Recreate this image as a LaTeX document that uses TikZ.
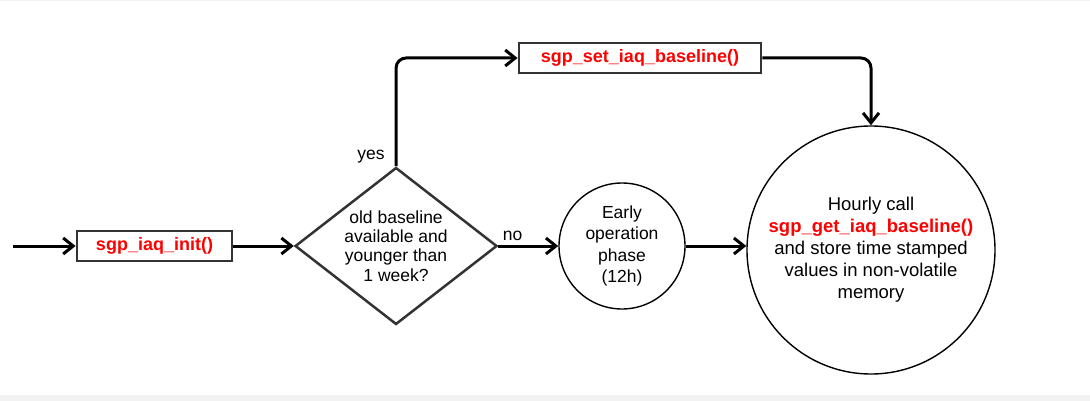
\documentclass[tikz,border=0pt]{standalone}
\usepackage{fontspec}
\setmainfont{Liberation Sans}
\usetikzlibrary{positioning,shapes.geometric,arrows.meta}
\definecolor{fnred}{HTML}{FF0000}
\definecolor{boxgray}{HTML}{333333}
\definecolor{bggray}{HTML}{F2F2F2}

\begin{document}
\begin{tikzpicture}[x=1pt,y=-1pt,>={Straight Barb[length=10pt,width=16pt]},auto,
                    flow/.style={->,line width=3pt},
                    fn node/.style={rectangle,draw=boxgray,line width=2.8pt,minimum height=30pt,inner sep=0pt,text=fnred,font=\fontsize{18}{20}\selectfont\bfseries},
                    dec node/.style={diamond,draw=boxgray,line width=2.5pt,aspect=1.29,minimum width=202pt,minimum height=157pt,inner sep=0pt,align=center,font=\fontsize{17.5}{19.3}\selectfont},
                    phase node/.style={circle,draw,line width=1.4pt,inner sep=0pt,align=center},
                    lbl/.style={font=\fontsize{17.5}{19}\selectfont}]

                    \useasboundingbox (0,0) rectangle (1090,401);
                    \fill[bggray] (0,0) rectangle (1090,1.5);
                    \fill[bggray] (0,395) rectangle (1090,401);

                    \coordinate (0) at (13,246);
                    \node[fn node, minimum width=155pt]  (1) [right=62.6pt of 0]{sgp\_iaq\_init()};
                    \node[dec node]  (2) [right=60.4pt of 1]{old baseline\\available and\\younger than\\1 week?};
                    \node[phase node, minimum size=126pt, font=\fontsize{17.5}{21.5}\selectfont]  (3) [right=60pt of 2]{Early\\operation\\phase\\(12h)};
                    \node[phase node, minimum size=248pt, font=\fontsize{18.5}{22}\selectfont]  (4) [right=60.6pt of 3, yshift=-4pt]{Hourly call\\{\color{fnred}\bfseries sgp\_get\_iaq\_baseline()}\\and store time stamped\\values in non-volatile\\memory};
                    \node[fn node, minimum width=242pt]  (5) at (640,58) {sgp\_set\_iaq\_baseline()};

                    \draw[flow] (0) to (1);
                    \draw[flow] (1) to (2);
                    \draw[flow] (2) to node[lbl, pos=0.24]{no} (3);
                    \draw[flow] (3.east) to (3.east -| 4.west);
                    \draw[flow, rounded corners=10pt] (2.north) |- (5.west);
                    \draw[flow, rounded corners=10pt] (5.east) -| (4.north);

                    \node[lbl, anchor=south east, xshift=-8pt] (6) at (2.north) {yes};

                    ;
                \end{tikzpicture}
\end{document}
